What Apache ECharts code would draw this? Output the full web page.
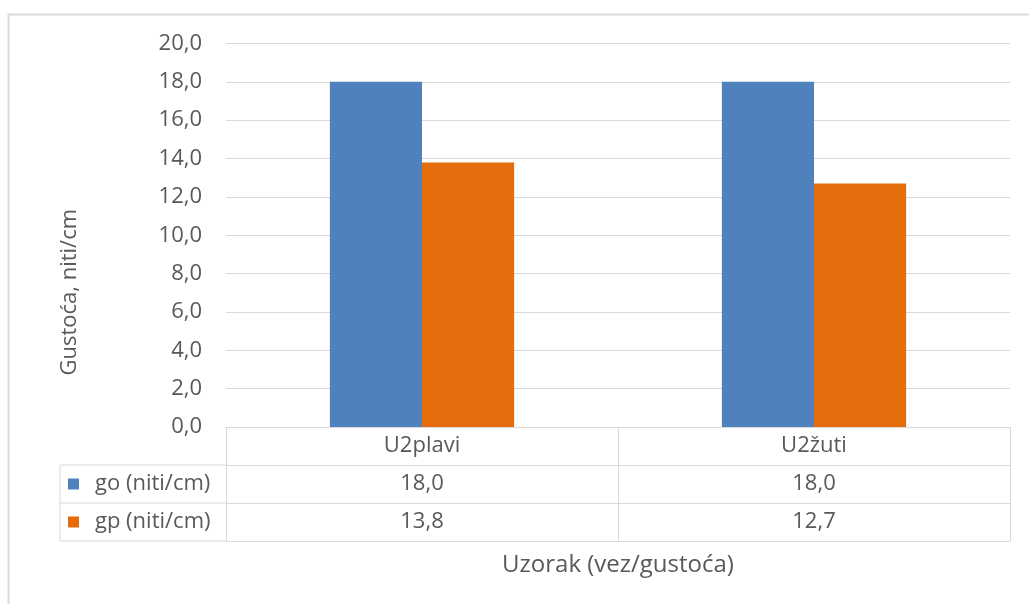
<!DOCTYPE html>
<html>
<head>
<meta charset="utf-8">
<script src="https://cdn.jsdelivr.net/npm/echarts@6/dist/echarts.min.js"></script>
<style>
  html, body { margin: 0; padding: 0; background: #ffffff; }
  #chart { width: 1029px; height: 604px; }
</style>
</head>
<body>
<div id="chart"></div>
<script>
// Sample categories and thread densities (threads per cm)
const categories = ['U2plavi', 'U2žuti'];
const goValues = [18.0, 18.0];   // warp density
const gpValues = [13.8, 12.7];   // weft density
const seriesNames = ['go (niti/cm)', 'gp (niti/cm)'];
const yTicks = { min: 0, max: 20, interval: 2 };

const textColor = '#595959';
const lineColor = '#d9d9d9';
const fontFamily = '"Open Sans", "Noto Sans", sans-serif';
const colors = ['#4f81bd', '#e46c0a'];
const FONT = 22;

const fmt = v => v.toFixed(1).replace('.', ',');

const ROW = 38;          // height of one data-table row
const GRID_LEFT = 226;
const GRID_RIGHT = 19;
const GRID_TOP = 43.5;
const GRID_BOTTOM = 177;
const TABLE_TOP = 604 - GRID_BOTTOM;
const TABLE_BOTTOM = TABLE_TOP + ROW * 3;

// One extra category axis per data-table row, stacked under the plot
function tableAxis(offset, formatter, showTicks) {
  return {
    type: 'category',
    data: categories,
    gridIndex: 0,
    position: 'bottom',
    offset: offset,
    boundaryGap: true,
    axisLine: { show: true, lineStyle: { color: lineColor, width: 1 } },
    axisTick: { show: showTicks, length: ROW, lineStyle: { color: lineColor, width: 1 } },
    axisLabel: {
      show: !!formatter,
      formatter: formatter,
      margin: ROW / 2,
      verticalAlign: 'middle',
      color: textColor,
      fontSize: FONT,
      fontFamily: fontFamily
    },
    splitLine: { show: false }
  };
}

const chart = echarts.init(document.getElementById('chart'), null, { renderer: 'canvas' });

const option = {
  backgroundColor: '#ffffff',
  animation: false,
  color: colors,
  grid: { left: GRID_LEFT, right: GRID_RIGHT, top: GRID_TOP, bottom: GRID_BOTTOM, containLabel: false },
  legend: {
    orient: 'vertical',
    left: 68,
    top: TABLE_TOP + ROW + ROW / 2 - 11,
    padding: 0,
    icon: 'rect',
    itemWidth: 11,
    itemHeight: 11,
    itemGap: ROW - 22,
    selectedMode: false,
    textStyle: { color: textColor, fontSize: FONT, lineHeight: 22, fontFamily: fontFamily, padding: [0, 0, 0, 11] },
    data: seriesNames
  },
  xAxis: [
    tableAxis(0, (v) => v, true),
    tableAxis(ROW, (v, i) => fmt(goValues[i]), true),
    tableAxis(ROW * 2, (v, i) => fmt(gpValues[i]), true),
    tableAxis(ROW * 3, null, false)
  ],
  yAxis: {
    type: 'value',
    min: yTicks.min,
    max: yTicks.max,
    interval: yTicks.interval,
    axisLine: { show: false },
    axisTick: { show: false },
    axisLabel: {
      color: textColor,
      fontSize: FONT,
      fontFamily: fontFamily,
      margin: 24,
      formatter: (v) => fmt(v)
    },
    splitLine: { lineStyle: { color: lineColor, width: 1 } }
  },
  series: [
    {
      name: seriesNames[0],
      type: 'bar',
      data: goValues,
      barGap: '0%',
      barCategoryGap: '53%',
      itemStyle: { color: colors[0] }
    },
    {
      name: seriesNames[1],
      type: 'bar',
      data: gpValues,
      barGap: '0%',
      barCategoryGap: '53%',
      itemStyle: { color: colors[1] }
    }
  ],
  graphic: [
    // chart frame
    {
      type: 'rect',
      shape: { x: 8.5, y: 14.5, width: 1040, height: 620 },
      style: { fill: null, stroke: '#d9d9d9', lineWidth: 2 },
      silent: true
    },
    // legend column of the data table
    { type: 'line', shape: { x1: 60, y1: TABLE_TOP + ROW, x2: GRID_LEFT, y2: TABLE_TOP + ROW }, style: { stroke: lineColor, lineWidth: 1 } },
    { type: 'line', shape: { x1: 60, y1: TABLE_TOP + ROW * 2, x2: GRID_LEFT, y2: TABLE_TOP + ROW * 2 }, style: { stroke: lineColor, lineWidth: 1 } },
    { type: 'line', shape: { x1: 60, y1: TABLE_BOTTOM, x2: GRID_LEFT, y2: TABLE_BOTTOM }, style: { stroke: lineColor, lineWidth: 1 } },
    { type: 'line', shape: { x1: 60, y1: TABLE_TOP + ROW, x2: 60, y2: TABLE_BOTTOM }, style: { stroke: lineColor, lineWidth: 1 } },
    // y-axis title, centred over the plot and the data table together
    {
      type: 'text',
      x: 70,
      y: (GRID_TOP + TABLE_BOTTOM) / 2,
      rotation: Math.PI / 2,
      style: {
        text: 'Gustoća, niti/cm',
        fill: textColor,
        font: '22px ' + fontFamily,
        textAlign: 'center',
        textVerticalAlign: 'middle'
      }
    },
    // x-axis title
    {
      type: 'text',
      x: GRID_LEFT + (1029 - GRID_LEFT - GRID_RIGHT) / 2,
      y: 565,
      style: {
        text: 'Uzorak (vez/gustoća)',
        fill: textColor,
        font: '24px ' + fontFamily,
        textAlign: 'center',
        textVerticalAlign: 'middle'
      }
    }
  ]
};

chart.setOption(option);
</script>
</body>
</html>
